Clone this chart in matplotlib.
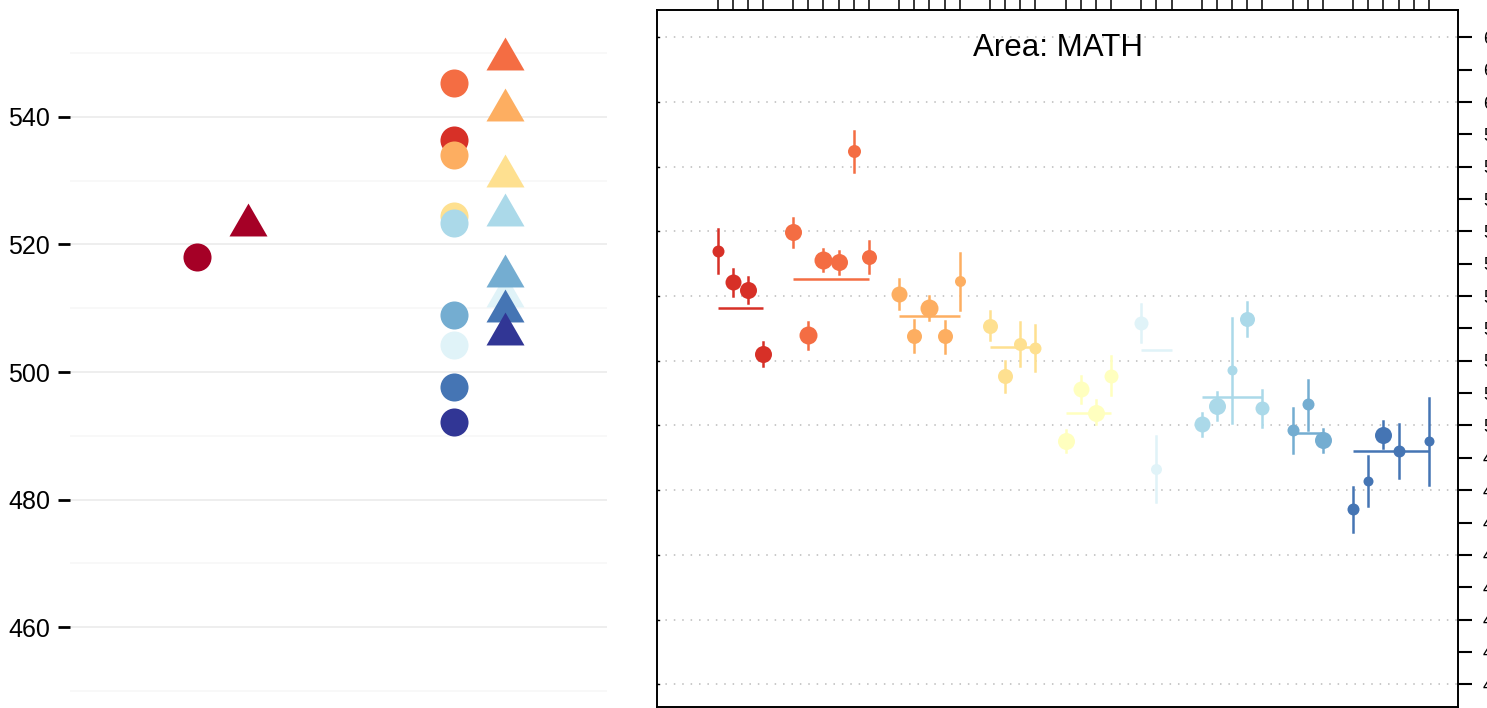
import numpy as np
import matplotlib.pyplot as plt

plt.rcParams['font.family'] = ['Liberation Sans', 'DejaVu Sans']

# colours (RdYlBu, 11 classes)
pal = ["#A50026", "#D73027", "#F46D43", "#FDAE61", "#FEE090", "#FFFFBF",
       "#E0F3F8", "#ABD9E9", "#74ADD1", "#4575B4", "#313695"]

# ---- left panel data: one circle + one triangle per colour, two columns
col1_circle = [518.0]
col1_triangle = [523.1]
col2_circle = [536.4, 545.3, 534.0, 524.5, np.nan, 504.2, 523.4, 509.0, 497.7, 492.2]
col2_triangle = [np.nan, 549.0, 541.0, 530.7, np.nan, 511.9, 524.6, 515.1, 509.6, 506.0]
left_ticks = [460, 480, 500, 520, 540]

# ---- right panel data: "Area: MATH", 9 groups
grp_colors = pal[1:10]
grp_est = [
    [553.9, 544.4, 541.9, 522.1],
    [559.8, 528.0, 551.2, 550.5, 584.9, 552.1],
    [540.6, 527.7, 536.3, 527.7, 544.7],
    [530.8, 515.3, 525.2, 524.0],
    [495.2, 511.3, 504.0, 515.4],
    [531.8, 486.6, np.nan],
    [500.4, 506.1, 517.1, 532.9, 505.3],
    [498.6, 506.6, 495.5],
    [474.2, 482.9, 497.2, 492.2, np.nan, 495.2],
]
grp_lo = [
    [547.2, 540.0, 537.9, 518.4],
    [555.2, 523.7, 547.7, 546.8, 578.4, 547.1],
    [536.0, 522.7, 532.6, 522.4, 535.7],
    [526.5, 510.3, 518.4, 516.9],
    [491.8, 507.0, 500.4, 509.4],
    [525.8, 476.4, np.nan],
    [496.8, 501.7, 500.8, 527.7, 499.6],
    [491.5, 498.6, 491.8],
    [467.1, 475.1, 493.0, 483.7, np.nan, 481.6],
]
grp_hi = [
    [560.7, 548.4, 545.9, 525.8],
    [564.1, 532.0, 554.7, 553.9, 591.0, 557.1],
    [545.3, 532.6, 540.0, 532.3, 553.3],
    [535.4, 520.0, 532.0, 531.1],
    [498.6, 515.3, 507.9, 521.5],
    [537.6, 496.8, np.nan],
    [503.9, 510.4, 533.3, 538.2, 511.0],
    [505.4, 514.1, 498.9],
    [481.0, 490.6, 501.4, 500.4, np.nan, 508.5],
]
grp_mean = [536.3, 545.3, 533.8, 524.3, 504.0, 523.3, 508.9, 497.8, 492.2]
# dot diameters (pixels)
grp_dot = [
    [12, 16, 17, 17],
    [17, 18, 18, 17, 13, 15],
    [16, 15, 18, 15, 11],
    [15, 15, 13, 12],
    [17, 16, 17, 14],
    [14, 11, 0],
    [16, 17, 10, 15, 14],
    [12, 12, 17],
    [12, 10, 17, 12, 0, 10],
]
right_ticks = list(range(420, 630, 10))

fig = plt.figure(figsize=(14.87, 7.08), dpi=100)
W, H = 1487, 708

# ---------------- left panel
ax = fig.add_axes([70 / W, 0, 537 / W, 1])
ax.set_xlim(0.405, 2.498)
ax.set_ylim(447.36, 558.28)
for s in ax.spines.values():
    s.set_visible(False)
for v in range(450, 560, 10):
    ax.axhline(v, color="#EBEBEB" if v % 20 == 0 else "#F7F7F7", lw=1.2, zorder=0)

tri = [(0, 1), (-0.866, -0.5), (0.866, -0.5)]
dodge = 0.1
ax.plot(1 - dodge, col1_circle[0], "o", ms=20.2, color=pal[0], mec="none")
ax.plot(1 + dodge, col1_triangle[0], marker=tri, ms=31.6, color=pal[0], mec="none", ls="none")
for c, v in zip(pal[1:], col2_circle):
    if not np.isnan(v):
        ax.plot(2 - dodge, v, "o", ms=20.2, color=c, mec="none")
for c, v in zip(pal[1:], col2_triangle):
    if not np.isnan(v):
        ax.plot(2 + dodge, v, marker=tri, ms=31.6, color=c, mec="none", ls="none")

ax.set_yticks(left_ticks)
ax.set_xticks([])
ax.tick_params(axis="y", length=8.4, width=2, pad=6, labelsize=18, colors="black")

# ---------------- right panel
ax2 = fig.add_axes([657 / W, 1 / H, 801 / W, 697 / H])
ax2.set_ylim(412.98, 628.44)
ax2.set_xlim(-4.0, 48.93)
for s in ax2.spines.values():
    s.set_linewidth(1.4)

for v in range(420, 621, 20):
    ax2.axhline(v, color="#BBBBBB", lw=1.1, ls=(0, (1, 4.5)), zorder=0)

all_pos = []
start = 0
for k, est in enumerate(grp_est):
    pos = np.arange(start, start + len(est))
    all_pos.extend(pos)
    col = grp_colors[k]
    ax2.plot([pos[0], pos[-1]], [grp_mean[k]] * 2, color=col, lw=1.8, solid_capstyle="butt")
    for p, e, lo, hi, d in zip(pos, est, grp_lo[k], grp_hi[k], grp_dot[k]):
        if np.isnan(e):
            continue
        ax2.plot([p, p], [lo, hi], color=col, lw=1.8)
        ax2.plot(p, e, "o", ms=d * 0.72, color=col, mec="none")
    start += len(est) + 1

ax2.text(0.5, 0.946, "Area: MATH", transform=ax2.transAxes, ha="center", va="center",
         fontsize=22.5)

ax2.set_xticks(all_pos)
ax2.tick_params(axis="x", bottom=False, top=True, labelbottom=False, labeltop=False,
                direction="out", length=10, width=1.1)
ax2.set_yticks(right_ticks)
ax2.yaxis.tick_right()
ax2.tick_params(axis="y", right=True, left=False, direction="out", length=10, width=1.5,
                pad=8, labelsize=13)
# small inner marks on the left border
for v in range(420, 621, 20):
    ax2.plot([-4.0, -3.85], [v, v], color="black", lw=1, clip_on=False)

fig.savefig("out.png", dpi=100)
